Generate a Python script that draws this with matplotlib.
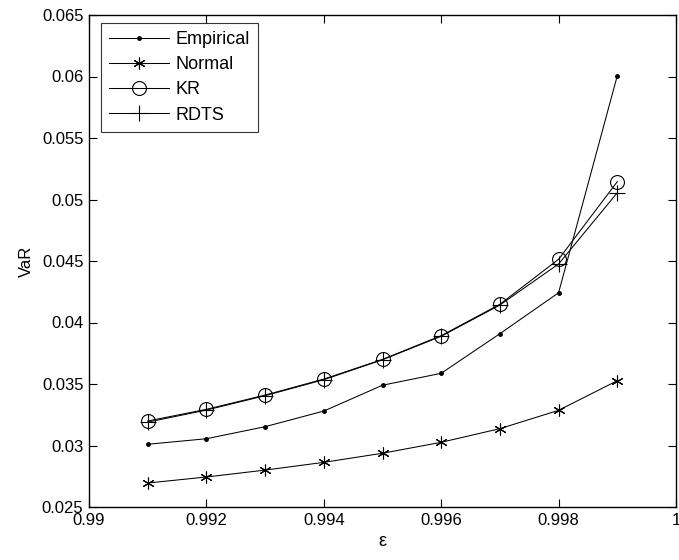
import matplotlib.pyplot as plt

plt.rcParams['font.family'] = ['Liberation Sans', 'DejaVu Sans']

eps = [0.991, 0.992, 0.993, 0.994, 0.995, 0.996, 0.997, 0.998, 0.999]
var_emp = [0.0301, 0.03055, 0.03153, 0.0328, 0.0349, 0.03587, 0.03909, 0.04242, 0.06007]
var_norm = [0.02695, 0.02744, 0.0280, 0.02863, 0.02937, 0.03026, 0.03137, 0.03286, 0.03527]
var_kr = [0.03199, 0.03294, 0.0341, 0.0354, 0.0370, 0.03893, 0.04148, 0.04514, 0.05145]
var_rdts = [0.0319, 0.03288, 0.03405, 0.03535, 0.03697, 0.03888, 0.04142, 0.04476, 0.05055]

x_ticks = [0.99, 0.992, 0.994, 0.996, 0.998, 1.0]
x_labels = ['0.99', '0.992', '0.994', '0.996', '0.998', '1']
y_ticks = [0.025, 0.03, 0.035, 0.04, 0.045, 0.05, 0.055, 0.06, 0.065]
y_labels = ['0.025', '0.03', '0.035', '0.04', '0.045', '0.05', '0.055', '0.06', '0.065']

fig = plt.figure(figsize=(6.79, 5.6), dpi=100)
ax = fig.add_axes([89 / 679, 53 / 560, 587 / 679, 492 / 560])

lw = 0.75
asterisk = (6, 2, 0)  # asterisk like matlab '*'
ax.plot(eps, var_emp, '-', color='black', lw=lw, marker='.', ms=5, label='Empirical')
ax.plot(eps, var_norm, '-', color='black', lw=lw, marker=asterisk, ms=8.5, mew=0.8, label='Normal')
ax.plot(eps, var_kr, '-', color='black', lw=lw, marker='o', ms=10, mfc='none', mew=0.8, label='KR')
ax.plot(eps, var_rdts, '-', color='black', lw=lw, marker='+', ms=12, mew=0.8, label='RDTS')

ax.set_xlim(0.99, 1.0)
ax.set_ylim(0.025, 0.065)
ax.set_xticks(x_ticks)
ax.set_xticklabels(x_labels)
ax.set_yticks(y_ticks)
ax.set_yticklabels(y_labels)
ax.tick_params(direction='in', length=6, width=0.8, labelsize=12, top=True, right=True, pad=4)
for s in ax.spines.values():
    s.set_linewidth(1.0)

ax.set_xlabel('ε', fontsize=13, labelpad=4)
ax.set_ylabel('VaR', fontsize=12, labelpad=6)

leg = ax.legend(loc='upper left', bbox_to_anchor=(12 / 587, 1 - 8 / 492), fontsize=13, frameon=True,
                fancybox=False, edgecolor='black', handlelength=3.3, borderpad=0.45,
                labelspacing=0.45, handletextpad=0.4, borderaxespad=0)
leg.get_frame().set_linewidth(0.8)

fig.savefig('out.png', dpi=100)
